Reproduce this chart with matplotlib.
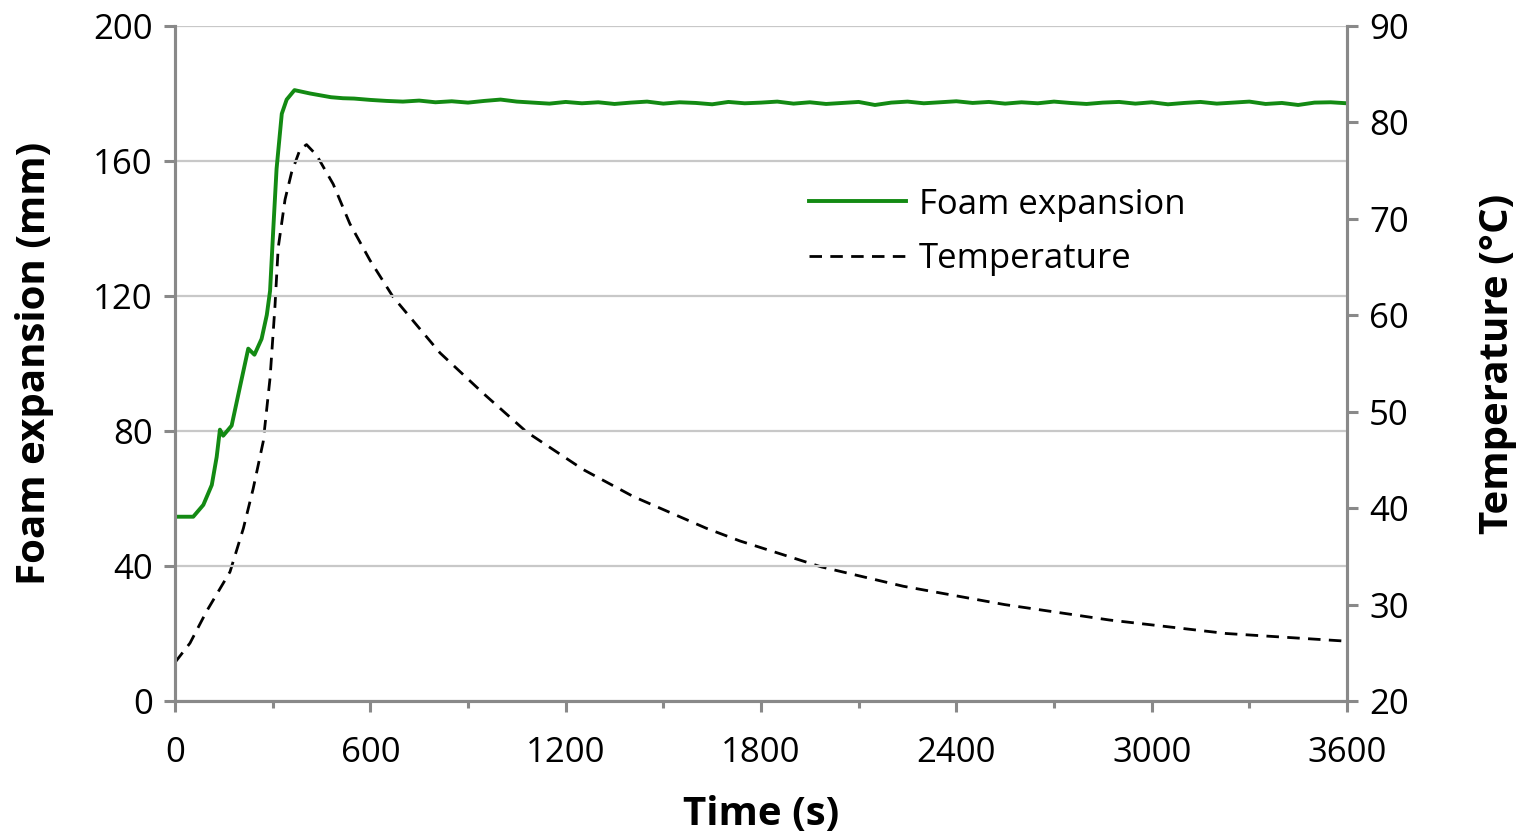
import numpy as np
import matplotlib
matplotlib.use('Agg')
import matplotlib.pyplot as plt
from matplotlib.ticker import MultipleLocator

# foam expansion (mm) vs time (s)
foam_t = [0, 56, 87, 113, 128, 138, 148, 174, 200, 225, 244, 266, 282, 292,
          302, 312, 328, 343, 367, 415, 479, 516] + list(range(550, 3601, 50))
foam_mm = [54.6, 54.6, 58.1, 64.0, 72.3, 80.4, 78.6, 81.6, 93.3, 104.4, 102.6,
           107.3, 114.4, 121.5, 140.0, 157.7, 174.0, 178.2, 181.0, 180.0, 178.9,
           178.6,
           178.5, 178.1, 177.8, 177.6, 177.9, 177.4, 177.7, 177.3, 177.8, 178.2,
           177.6, 177.3, 177.0, 177.5, 177.1, 177.4, 176.9, 177.3, 177.6, 177.0,
           177.4, 177.2, 176.8, 177.5, 177.1, 177.3, 177.6, 177.0, 177.4, 176.9,
           177.2, 177.5, 176.6, 177.3, 177.6, 177.1, 177.4, 177.7, 177.2, 177.5,
           177.0, 177.4, 177.1, 177.6, 177.2, 176.9, 177.3, 177.5, 177.0, 177.4,
           176.8, 177.2, 177.5, 177.0, 177.3, 177.6, 176.9, 177.2, 176.6, 177.3,
           177.4, 177.1]

# temperature (degC) vs time (s)
temp_t = [0, 46, 97, 169, 210, 240, 271, 292, 307, 317, 338, 358, 384, 404,
          435, 486, 537, 599, 670, 814, 947, 1080, 1254, 1408, 1633, 1735,
          1986, 2237, 2548, 2870, 3229, 3600]
temp_c = [24.0, 26.0, 29.3, 33.4, 37.9, 42.0, 46.9, 53.5, 60.9, 67.0, 72.0,
          74.8, 77.2, 77.7, 76.6, 73.6, 69.5, 65.7, 61.9, 56.1, 51.9, 47.9,
          44.0, 41.2, 37.9, 36.6, 33.9, 31.9, 30.0, 28.4, 27.0, 26.2]

plt.rcParams['font.family'] = ['Open Sans', 'DejaVu Sans']

spine_col = '#898989'
fs = 25
lab_fs = 29

fig = plt.figure(figsize=(15.24, 8.38), dpi=100)
ax1 = fig.add_axes([175/1524, 1-701/838, (1347-175)/1524, (701-26)/838])
ax2 = ax1.twinx()

ax1.set_zorder(ax2.get_zorder() + 1)
ax1.patch.set_visible(False)

l1, = ax1.plot(foam_t, foam_mm, color='#138a13', lw=2.8, label='Foam expansion')
l2, = ax2.plot(temp_t, temp_c, color='black', lw=2.0, dashes=(4.5, 3),
               label='Temperature')

ax1.set_xlim(0, 3600)
ax1.set_ylim(0, 200)
ax2.set_ylim(20, 90)
ax1.xaxis.set_major_locator(MultipleLocator(600))
ax1.xaxis.set_minor_locator(MultipleLocator(300))
ax1.yaxis.set_major_locator(MultipleLocator(40))
ax2.yaxis.set_major_locator(MultipleLocator(10))

ax1.grid(axis='y', color='#c8c8c8', lw=1.6)
ax1.set_axisbelow(True)

for ax in (ax1, ax2):
    ax.spines['top'].set_visible(False)
    for side in ('left', 'right', 'bottom'):
        ax.spines[side].set_color(spine_col)
        ax.spines[side].set_linewidth(2.2)
    ax.tick_params(which='major', length=8, width=2.2, color=spine_col,
                   labelsize=fs, pad=8)
    ax.tick_params(which='minor', length=5, width=2.2, color=spine_col)
ax1.tick_params(axis='x', pad=17)

ax1.set_xlabel('Time (s)', fontsize=lab_fs, fontweight='bold', labelpad=18)
ax1.set_ylabel('Foam expansion (mm)', fontsize=lab_fs, fontweight='bold', labelpad=28)
ax2.set_ylabel('Temperature (°C)', fontsize=lab_fs, fontweight='bold', labelpad=50)

ax1.legend(handles=[l1, l2], loc='upper left', bbox_to_anchor=(0.514, 0.807),
           frameon=False, fontsize=fs, handlelength=2.8, handletextpad=0.37,
           labelspacing=0.6)

fig.savefig('out.png', dpi=100, facecolor='white')
